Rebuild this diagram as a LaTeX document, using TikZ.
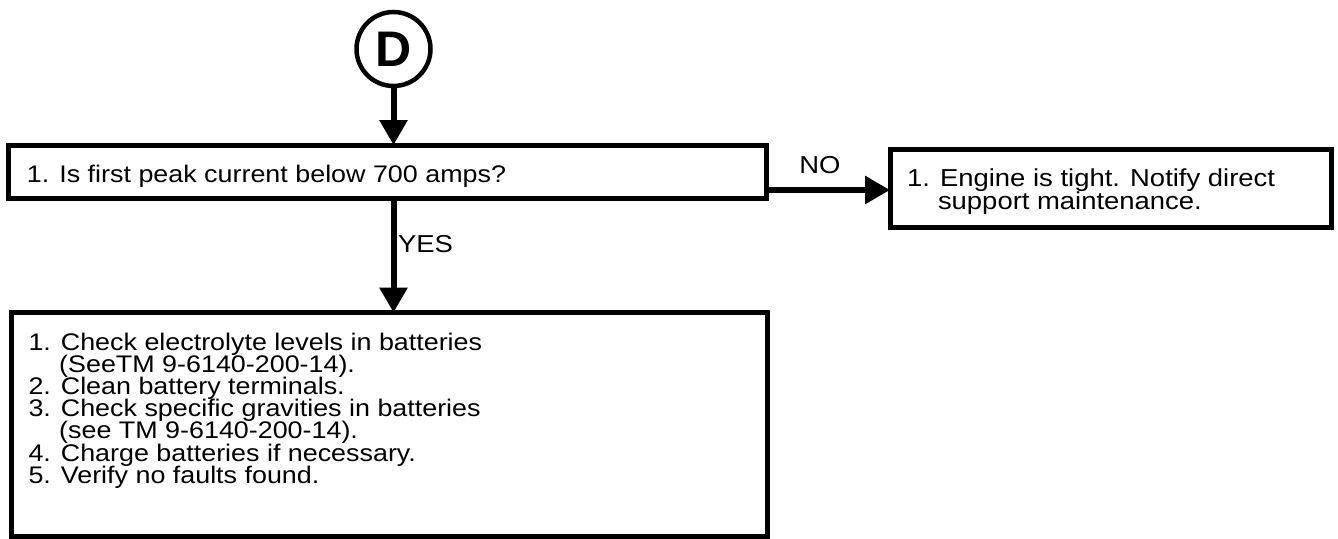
\documentclass[tikz,border=0pt]{standalone}
\usepackage{fontspec}
\setmainfont{Liberation Sans}[FakeStretch=1.12]
\newfontfamily\dfont{Liberation Sans}
\usetikzlibrary{arrows.meta}
\begin{document}
\begin{tikzpicture}[x=1pt,y=-1pt,
  box/.style={draw, line width=5pt, rectangle, inner sep=0pt, outer sep=0pt, anchor=north west},
  txt/.style={anchor=base west, inner sep=0pt, outer sep=0pt, font=\fontsize{24}{22}\selectfont},
  lbl/.style={inner sep=0pt, outer sep=0pt, font=\fontsize{24.5}{22}\selectfont},
  arr/.style={line width=6pt, -{Triangle[length=25pt,width=27pt]}},
]
\useasboundingbox (0,0) rectangle (1338,538);
% start connector
\node[circle, draw, line width=4.5pt, minimum size=74pt, inner sep=0pt, outer sep=0pt,
      font=\dfont\bfseries\fontsize{50}{50}\selectfont] (d) at (393.5,49) {D};
% boxes
\node[box, minimum width=758pt, minimum height=53pt] (q1) at (8.5,145) {};
\node[box, minimum width=441pt, minimum height=77.5pt] (q2) at (890,149.5) {};
\node[box, minimum width=755.5pt, minimum height=223.5pt] (q3) at (11.5,312.5) {};
% texts
\node[txt] (t1) at (27,182) {1. Is first peak current below 700 amps?};
\node[txt, font=\fontsize{24.5}{22}\selectfont] (t21) at (907,186) {1. Engine is tight. Notify direct};
\node[txt, font=\fontsize{24.5}{22}\selectfont] (t22) at (938,209) {support maintenance.};
\node[txt] (t31) at (28.5,350) {1. Check electrolyte levels in batteries};
\node[txt] (t32) at (59.2,372.2) {(SeeTM 9-6140-200-14).};
\node[txt] (t33) at (28.5,394.4) {2. Clean battery terminals.};
\node[txt] (t34) at (28.5,416.6) {3. Check specific gravities in batteries};
\node[txt] (t35) at (59.2,438.8) {(see TM 9-6140-200-14).};
\node[txt] (t36) at (28.5,461) {4. Charge batteries if necessary.};
\node[txt] (t37) at (28.5,483.2) {5. Verify no faults found.};
% connectors
\draw[arr] (d.south) -- (d |- q1.north);
\draw[arr] (d |- q1.south) -- (d |- q3.north);
\coordinate (nostart) at ([yshift=-18.5pt]q1.east);
\draw[arr] (nostart) -- (nostart -| q2.west);
% labels
\node[lbl] (no) at (820,165) {NO};
\node[lbl, anchor=west] (yes) at (398,244) {YES};
\end{tikzpicture}
\end{document}
